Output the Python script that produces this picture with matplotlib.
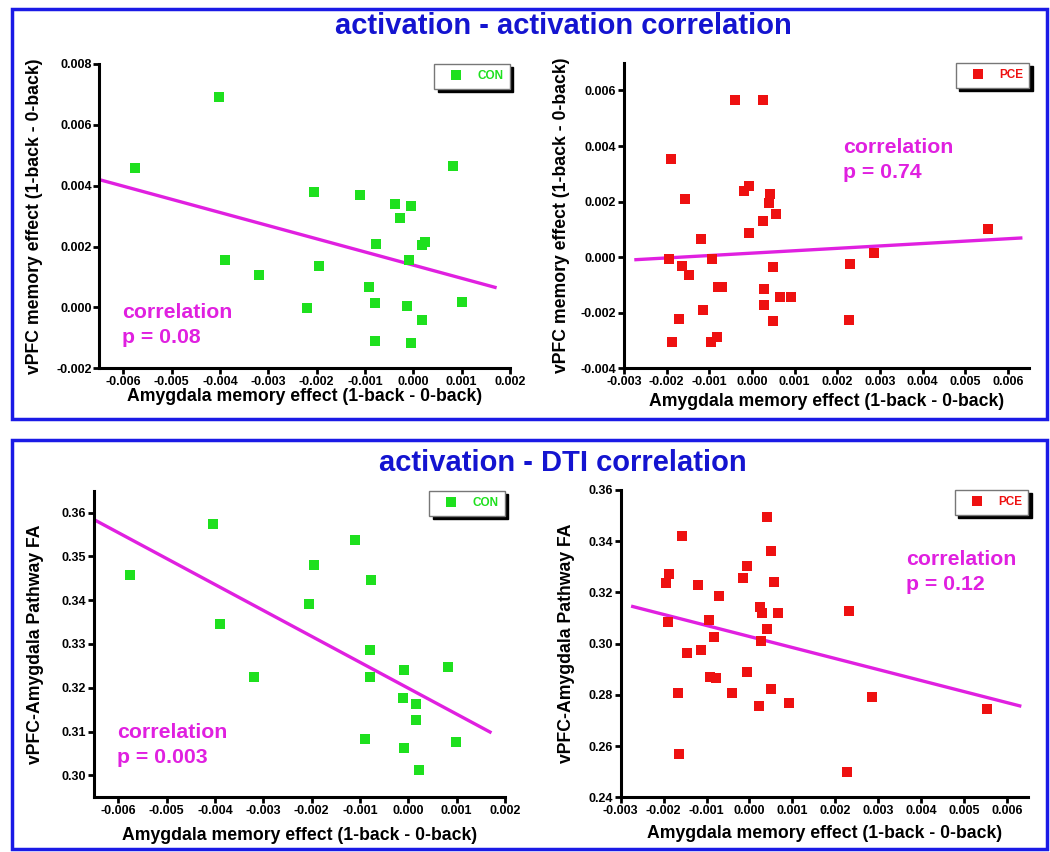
import matplotlib
matplotlib.use("Agg")
import matplotlib.pyplot as plt
from matplotlib.patches import Rectangle
from matplotlib.ticker import FormatStrFormatter
import numpy as np

plt.rcParams['font.family'] = ['Liberation Sans', 'DejaVu Sans']

# ---------------- data ----------------
# top-left: CON activation-activation
con_act_x = [-0.00403, -0.00576, 0.00083, -0.00206, -0.0011, -0.00039, -0.00005, -0.00028,
             -0.00077, 0.00018, 0.00025, -0.0001, -0.00389, -0.00195, -0.00319, -0.00091,
             -0.0022, -0.00079, -0.00014, 0.00100, 0.00017, -0.00079, -0.00005]
con_act_y = [0.00693, 0.00459, 0.00465, 0.0038, 0.0037, 0.00339, 0.00334, 0.00293,
             0.00209, 0.00205, 0.00214, 0.00156, 0.00156, 0.00136, 0.00105, 0.00066,
             -0.00003, 0.00016, 0.00005, 0.00017, -0.00041, -0.00109, -0.00118]
con_act_fit_x = [-0.0065, 0.00169]
con_act_fit_y = [0.0042, 0.00066]

# top-right: PCE activation-activation
pce_act_x = [-0.00039, 0.00025, -0.0019, -0.00157, -0.00018, -0.00007, 0.00043, 0.00041,
             0.00057, 0.00025, -0.00007, -0.0012, 0.00554, 0.00287, -0.00194, -0.00093,
             -0.00165, -0.00147, 0.0023, 0.00049, -0.0008, -0.00071, 0.00027, 0.00066,
             0.00092, 0.00029, -0.00116, -0.0017, 0.00049, 0.00227, -0.00187, -0.00097,
             -0.00082]
pce_act_y = [0.00564, 0.00566, 0.00354, 0.00209, 0.00237, 0.00257, 0.00227, 0.00195,
             0.00157, 0.00129, 0.00087, 0.00065, 0.00102, 0.00015, -0.00006, -0.00007,
             -0.00031, -0.00063, -0.00025, -0.00036, -0.00108, -0.00106, -0.00114, -0.00142,
             -0.00145, -0.00172, -0.0019, -0.00223, -0.00229, -0.00226, -0.00305, -0.00305,
             -0.00289]
pce_act_fit_x = [-0.00272, 0.0063]
pce_act_fit_y = [-0.00009, 0.00069]

# bottom-left: CON activation-DTI
con_dti_x = [-0.00403, -0.00575, -0.0011, -0.00196, -0.00077, -0.00206, -0.0039, -0.0008,
             -0.00319, -0.0008, -0.00008, 0.00082, -0.0001, 0.00015, 0.00015, -0.0009,
             0.00098, -0.00008, 0.00023]
con_dti_y = [0.3573, 0.3457, 0.3538, 0.348, 0.3445, 0.3391, 0.3345, 0.3287,
             0.3225, 0.3225, 0.324, 0.3247, 0.3177, 0.3164, 0.3126, 0.3084,
             0.3076, 0.3063, 0.3013]
con_dti_fit_x = [-0.0065, 0.00169]
con_dti_fit_y = [0.3584, 0.3099]

# bottom-right: PCE activation-DTI
pce_dti_x = [0.00042, -0.00156, 0.0005, -0.00006, -0.00187, -0.00195, -0.00016, 0.00057,
             -0.0012, -0.00072, 0.00231, 0.00025, 0.0003, 0.00066, -0.00189, -0.00095,
             0.00042, -0.00082, 0.00026, -0.00114, -0.00146, -0.00006, -0.00092, -0.00079,
             -0.0004, -0.00167, 0.0005, 0.00286, 0.00092, 0.00022, 0.00553, -0.00164,
             0.00227]
pce_dti_y = [0.3493, 0.3422, 0.3363, 0.3305, 0.3272, 0.3238, 0.3255, 0.3242,
             0.3229, 0.3188, 0.3129, 0.3145, 0.3121, 0.3121, 0.3083, 0.3093,
             0.3057, 0.3027, 0.3012, 0.2974, 0.2965, 0.2888, 0.2871, 0.2865,
             0.2809, 0.2806, 0.2821, 0.2791, 0.2767, 0.2758, 0.2744, 0.2571,
             0.2499]
pce_dti_fit_x = [-0.00272, 0.0063]
pce_dti_fit_y = [0.3145, 0.2757]

section_titles = ["activation - activation correlation", "activation - DTI correlation"]
group_labels = ["CON", "PCE"]
p_texts = ["p = 0.08", "p = 0.74", "p = 0.003", "p = 0.12"]
corr_word = "correlation"
xlabel = "Amygdala memory effect (1-back - 0-back)"
ylabel_act = "vPFC memory effect (1-back - 0-back)"
ylabel_dti = "vPFC-Amygdala Pathway FA"

# ---------------- style ----------------
W, H = 1050, 852
GREEN = '#1EE01E'
RED = '#EE1111'
MAGENTA = '#E020E0'
BLUE = '#1A1AE6'
TBLUE = '#1414D0'

fig = plt.figure(figsize=(W / 100, H / 100), dpi=100)
fig.patch.set_facecolor('white')


def px_axes(left, right, top, bottom):
    return fig.add_axes([left / W, (H - bottom) / H, (right - left) / W, (bottom - top) / H])


# Blue section frames
for (y0, y1) in [(9, 419), (440, 849)]:
    fig.add_artist(Rectangle((12 / W, (H - y1) / H), (1047 - 12) / W, (y1 - y0) / H,
                             transform=fig.transFigure, fill=False, edgecolor=BLUE,
                             linewidth=2.5, zorder=0))

fig.text(563 / W, 1 - 26 / H, section_titles[0], ha='center', va='center',
         fontsize=21, fontweight='bold', color=TBLUE)
fig.text(563 / W, 1 - 463 / H, section_titles[1], ha='center', va='center',
         fontsize=21, fontweight='bold', color=TBLUE)

panels = [
    dict(box=(99.3, 510, 64, 368.3), x=con_act_x, y=con_act_y, fx=con_act_fit_x, fy=con_act_fit_y,
         color=GREEN, label=group_labels[0], xlim=(-0.0065, 0.002), ylim=(-0.002, 0.008),
         xt=np.arange(-6, 3) / 1000, yt=np.arange(-2, 9, 2) / 1000, yfmt='%.3f',
         ylabel=ylabel_act, ylab_x=35, xlab_y=397, txt=(122, 318.3), p=p_texts[0]),
    dict(box=(624, 1029.3, 62.7, 368.3), x=pce_act_x, y=pce_act_y, fx=pce_act_fit_x, fy=pce_act_fit_y,
         color=RED, label=group_labels[1], xlim=(-0.003, 0.0065), ylim=(-0.004, 0.007),
         xt=np.arange(-3, 7) / 1000, yt=np.arange(-4, 7, 2) / 1000, yfmt='%.3f',
         ylabel=ylabel_act, ylab_x=561.7, xlab_y=402, txt=(843.3, 153.3), p=p_texts[1]),
    dict(box=(94, 505, 490.7, 797.3), x=con_dti_x, y=con_dti_y, fx=con_dti_fit_x, fy=con_dti_fit_y,
         color=GREEN, label=group_labels[0], xlim=(-0.0065, 0.002), ylim=(0.295, 0.365),
         xt=np.arange(-6, 3) / 1000, yt=np.arange(30, 37) / 100, yfmt='%.2f',
         ylabel=ylabel_dti, ylab_x=35, xlab_y=835, txt=(117.3, 738.3), p=p_texts[2]),
    dict(box=(620.7, 1028.3, 490, 797.3), x=pce_dti_x, y=pce_dti_y, fx=pce_dti_fit_x, fy=pce_dti_fit_y,
         color=RED, label=group_labels[1], xlim=(-0.003, 0.0065), ylim=(0.24, 0.36),
         xt=np.arange(-3, 7) / 1000, yt=np.arange(24, 37, 2) / 100, yfmt='%.2f',
         ylabel=ylabel_dti, ylab_x=566.7, xlab_y=833, txt=(905.7, 565), p=p_texts[3]),
]

LINE_GAP = 25  # px between the two lines of the correlation note

for p in panels:
    l, r, t, b = p['box']
    ax = px_axes(l, r, t, b)
    ax.set_facecolor('none')
    ax.plot(p['fx'], p['fy'], color=MAGENTA, linewidth=2.4, zorder=2)
    ax.plot(p['x'], p['y'], linestyle='none', marker='s', markersize=7.2,
            color=p['color'], markeredgewidth=0, label=p['label'], zorder=3)
    ax.set_xlim(*p['xlim'])
    ax.set_ylim(*p['ylim'])
    ax.set_xticks(p['xt'])
    ax.set_yticks(p['yt'])
    ax.xaxis.set_major_formatter(FormatStrFormatter('%.3f'))
    ax.yaxis.set_major_formatter(FormatStrFormatter(p['yfmt']))
    for s in ['top', 'right']:
        ax.spines[s].set_visible(False)
    for s in ['left', 'bottom']:
        ax.spines[s].set_linewidth(2.2)
    ax.tick_params(direction='out', length=4, width=2, labelsize=9, pad=1.5)
    for lab in ax.get_xticklabels() + ax.get_yticklabels():
        lab.set_fontweight('bold')
    ax.set_xlabel(xlabel, fontsize=12.7, fontweight='bold')
    ax.set_ylabel(p['ylabel'], fontsize=12.7, fontweight='bold')
    ax.xaxis.set_label_coords(0.5, -(p['xlab_y'] - b) / (b - t))
    ax.xaxis.label.set_va('center')
    ax.yaxis.set_label_coords(-(l - p['ylab_x']) / (r - l), 0.5)
    ax.yaxis.label.set_va('center')

    leg = ax.legend(loc='upper right', bbox_to_anchor=(1.0, 1.0), borderaxespad=0,
                    prop={'weight': 'bold', 'size': 8.5}, handlelength=2.6,
                    handletextpad=0.5, borderpad=0.55, fancybox=False,
                    shadow={'color': 'black', 'alpha': 1.0, 'ox': 2.5, 'oy': -2.5},
                    framealpha=1, edgecolor='#777777')
    leg.get_frame().set_linewidth(1.0)
    leg.get_texts()[0].set_color(p['color'])

    tx = (p['txt'][0] - l) / (r - l)
    ty1 = (b - p['txt'][1]) / (b - t)
    ty2 = (b - p['txt'][1] - LINE_GAP) / (b - t)
    ax.text(tx, ty1, corr_word, transform=ax.transAxes, ha='left', va='baseline',
            fontsize=15.3, fontweight='bold', color=MAGENTA)
    ax.text(tx, ty2, p['p'], transform=ax.transAxes, ha='left', va='baseline',
            fontsize=15.3, fontweight='bold', color=MAGENTA)

fig.savefig('out.png', dpi=100, facecolor='white')
